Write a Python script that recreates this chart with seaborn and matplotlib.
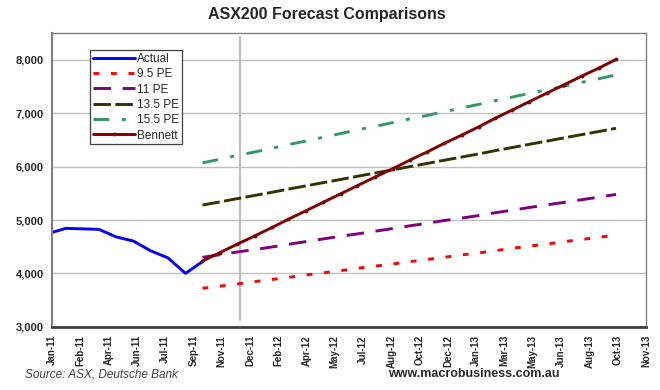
#!/usr/bin/env python3
# -*- coding: utf-8 -*-
"""
ASX200 forecast comparisons - recreated chart
"""

import pandas as pd
import numpy as np
import matplotlib
matplotlib.use('Agg')
import matplotlib.pyplot as plt
import matplotlib.dates as mdates
import seaborn as sns

sns.set_style('white')
plt.rcParams['font.family'] = ['Liberation Sans', 'DejaVu Sans']

# 实际值 (月末)
actual_dates = pd.date_range('2010-12-31', periods=10, freq='ME')
actual_values = [4745, 4843, 4835, 4825, 4685, 4605, 4425, 4290, 4000, 4220]

# 预测 (2011-09 到 2013-09 月末)
forecast_dates = pd.date_range('2011-09-30', periods=25, freq='ME')
pe_95 = [3720, 3760, 3800, 3845, 3885, 3925, 3970, 4010, 4050, 4095, 4135, 4175, 4220,
         4260, 4300, 4345, 4385, 4425, 4470, 4510, 4550, 4595, 4635, 4675, 4720]
pe_11 = [4300, 4350, 4400, 4445, 4495, 4545, 4595, 4645, 4695, 4740, 4790, 4840, 4890,
         4940, 4990, 5035, 5085, 5135, 5185, 5235, 5285, 5330, 5380, 5430, 5480]
pe_135 = [5280, 5340, 5400, 5460, 5520, 5580, 5640, 5700, 5760, 5820, 5880, 5940, 6000,
          6060, 6120, 6180, 6240, 6300, 6360, 6420, 6480, 6540, 6600, 6660, 6720]
pe_155 = [6070, 6140, 6210, 6275, 6345, 6415, 6480, 6550, 6620, 6690, 6755, 6825, 6895,
          6960, 7030, 7100, 7170, 7235, 7305, 7375, 7440, 7510, 7580, 7650, 7720]
bennett = [4230, 4390, 4545, 4700, 4860, 5015, 5175, 5330, 5490, 5645, 5805, 5960, 6120,
           6275, 6435, 6590, 6750, 6905, 7065, 7220, 7380, 7535, 7695, 7850, 8010]

forecast_made = pd.Timestamp('2011-12-06')

tick_labels = ['Jan-11', 'Feb-11', 'Apr-11', 'Jun-11', 'Jul-11', 'Sep-11', 'Nov-11', 'Dec-11',
               'Feb-12', 'Apr-12', 'May-12', 'Jul-12', 'Aug-12', 'Oct-12', 'Dec-12', 'Jan-13',
               'Mar-13', 'May-13', 'Jun-13', 'Aug-13', 'Oct-13', 'Nov-13']
x_start = pd.Timestamp('2011-01-07')
tick_dates = pd.date_range(x_start, periods=len(tick_labels), freq='50D')
y_ticks = [3000, 4000, 5000, 6000, 7000, 8000]

fig = plt.figure(figsize=(6.6, 3.9), dpi=100)
ax = fig.add_axes([0.0788, 0.1623, 0.9, 0.7523])

# 网格
for yv in y_ticks[1:]:
    ax.axhline(yv, color='#c0c0c0', lw=1.0, zorder=0)
ax.axvline(forecast_made, ymin=0.023, ymax=0.988, color='#c0c0c0', lw=1.6, zorder=0)

series = [
    ('Actual', actual_dates, actual_values, '#0000ff', '-', None),
    ('9.5 PE', forecast_dates, pe_95, '#ff0000', (0, (2, 4)), None),
    ('11 PE', forecast_dates, pe_11, '#800080', (0, (6, 4)), None),
    ('13.5 PE', forecast_dates, pe_135, '#333300', (0, (6, 1.5)), None),
    ('15.5 PE', forecast_dates, pe_155, '#339966', (0, (5.4, 4.3, 1.4, 4.3)), None),
    ('Bennett', forecast_dates, bennett, '#800000', '-', 'o'),
]

for name, dates, values, color, ls, mk in series:
    df = pd.DataFrame({'date': dates, 'value': values})
    sns.lineplot(data=df, x='date', y='value', ax=ax, color=color, linestyle=ls,
                 lw=2.1, marker=mk, markersize=2.8 if mk else None,
                 markeredgewidth=0, label=name)

ax.set_xlim(x_start, tick_dates[-1])
ax.set_ylim(3000, 8500)
ax.set_xticks(tick_dates)
ax.set_xticklabels(tick_labels, rotation=90, fontsize=7, fontweight='bold')
ax.set_yticks(y_ticks)
ax.set_yticklabels([f'{v:,}' for v in y_ticks], fontsize=8, fontweight='bold')
ax.set_xlabel('')
ax.set_ylabel('')
ax.tick_params(axis='both', direction='out', length=4, width=1, color='#404040', pad=2)

for side in ['top', 'right']:
    ax.spines[side].set_color('#808080')
    ax.spines[side].set_linewidth(1.0)
ax.spines['left'].set_color('#808080')
ax.spines['left'].set_linewidth(1.5)
ax.spines['bottom'].set_color('#404040')
ax.spines['bottom'].set_linewidth(2.0)

leg = ax.legend(loc='upper left', bbox_to_anchor=(0.064, 0.943), fontsize=8.5,
                frameon=True, fancybox=False, edgecolor='#404040', framealpha=1,
                handlelength=3.6, handletextpad=0.1, borderpad=0.25, labelspacing=0.28,
                borderaxespad=0)
leg.get_frame().set_linewidth(0.9)

fig.text(0.495, 0.962, 'ASX200 Forecast Comparisons', ha='center', va='center',
         fontsize=11.5, fontweight='bold')
fig.text(0.038, 0.04, 'Source: ASX, Deutsche Bank', ha='left', va='center',
         fontsize=8.5, style='italic', color='#404040')
fig.text(0.588, 0.04, 'www.macrobusiness.com.au', ha='left', va='center',
         fontsize=9, fontweight='bold')

plt.savefig('out.png', dpi=100)
